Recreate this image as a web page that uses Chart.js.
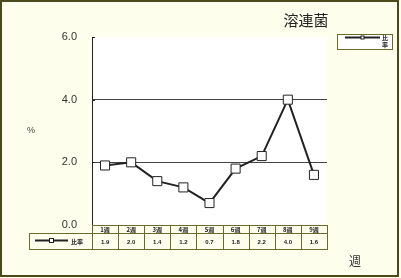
<!DOCTYPE html>
<html>
<head>
<meta charset="utf-8">
<script src="https://cdn.jsdelivr.net/npm/chart.js@4/dist/chart.umd.min.js"></script>
<style>
  html, body { margin: 0; padding: 0; background: #ffffff; }
  #c { display: block; }
</style>
</head>
<body>
<canvas id="c" width="401" height="278"></canvas>
<script>
// Weekly ratio of streptococcal cases (溶連菌)
const weekLabels = ['1週', '2週', '3週', '4週', '5週', '6週', '7週', '8週', '9週'];
const ratioValues = [1.9, 2.0, 1.4, 1.2, 0.7, 1.8, 2.2, 4.0, 1.6];
const yTicks = [0, 2, 4, 6];
const seriesName = '比率';
const chartTitle = '溶連菌';
const yUnit = '%';
const xUnit = '週';

const BG = '#fefeec';
const FRAME = '#4a4a1c';
const TABLE_LINE = '#6a6a2a';
const INK = '#222222';
const CJK = '"Noto Sans CJK JP", "Noto Sans", sans-serif';

function drawMarker(ctx, x, y, s) {
  ctx.fillStyle = '#ffffff';
  ctx.strokeStyle = INK;
  ctx.lineWidth = 1;
  ctx.fillRect(x - s / 2, y - s / 2, s, s);
  ctx.strokeRect(x - s / 2, y - s / 2, s, s);
}

const decor = {
  id: 'decor',
  beforeDraw(chart) {
    const { ctx, chartArea: a } = chart;
    ctx.save();
    ctx.fillStyle = BG;
    ctx.fillRect(0, 0, chart.width, chart.height);
    ctx.fillStyle = '#ffffff';
    ctx.fillRect(a.left, a.top, a.right - a.left, a.bottom - a.top);
    ctx.restore();
  },
  afterDraw(chart) {
    const { ctx, chartArea: a } = chart;
    const xs = chart.scales.x;
    const ys = chart.scales.y;
    ctx.save();

    // inner tick marks on the value axis
    ctx.strokeStyle = INK;
    ctx.lineWidth = 1;
    yTicks.forEach(v => {
      const y = Math.round(ys.getPixelForValue(v)) + 0.5;
      ctx.beginPath();
      ctx.moveTo(a.left, y);
      ctx.lineTo(a.left + 3, y);
      ctx.stroke();
    });

    // data table under the plot
    const half = (xs.getPixelForValue(1) - xs.getPixelForValue(0)) / 2;
    const tLeft = xs.getPixelForValue(0) - half;
    const tRight = xs.getPixelForValue(weekLabels.length - 1) + half;
    const r0 = 225, r1 = 233, r2 = 249, keyLeft = 29;
    ctx.strokeStyle = TABLE_LINE;
    ctx.lineWidth = 1;
    const hl = (x1, x2, y) => { ctx.beginPath(); ctx.moveTo(x1, y + 0.5); ctx.lineTo(x2, y + 0.5); ctx.stroke(); };
    const vl = (x, y1, y2) => { ctx.beginPath(); ctx.moveTo(Math.round(x) + 0.5, y1); ctx.lineTo(Math.round(x) + 0.5, y2); ctx.stroke(); };
    hl(tLeft, tRight + 1, r0);
    hl(keyLeft, tRight + 1, r1);
    hl(keyLeft, tRight + 1, r2);
    vl(keyLeft, r1, r2 + 1);
    for (let i = 0; i <= weekLabels.length; i++) {
      vl(tLeft + i * half * 2, r0, r2 + 1);
    }
    ctx.fillStyle = INK;
    ctx.textAlign = 'center';
    ctx.textBaseline = 'middle';
    weekLabels.forEach((lab, i) => {
      const cx = xs.getPixelForValue(i);
      ctx.font = 'bold 6px ' + CJK;
      ctx.fillText(lab, cx, (r0 + r1) / 2 + 1);
      ctx.font = 'bold 6px "Liberation Sans", sans-serif';
      ctx.fillText(ratioValues[i].toFixed(1), cx, (r1 + r2) / 2 + 1);
    });
    // series key inside the table
    const ky = Math.round((r1 + r2) / 2) - 0.5;
    ctx.strokeStyle = INK;
    ctx.lineWidth = 2;
    ctx.beginPath(); ctx.moveTo(35, ky); ctx.lineTo(68, ky); ctx.stroke();
    drawMarker(ctx, 51.5, ky, 4);
    ctx.fillStyle = INK;
    ctx.font = 'bold 6px ' + CJK;
    ctx.textAlign = 'left';
    ctx.fillText(seriesName, 71, ky + 1);

    // legend box
    ctx.fillStyle = '#ffffff';
    ctx.fillRect(337, 34, 55, 15);
    ctx.strokeStyle = TABLE_LINE;
    ctx.lineWidth = 1;
    ctx.strokeRect(337.5, 34.5, 55, 15);
    ctx.strokeStyle = INK;
    ctx.lineWidth = 2;
    ctx.beginPath(); ctx.moveTo(345, 37.5); ctx.lineTo(380, 37.5); ctx.stroke();
    drawMarker(ctx, 362.5, 37.5, 3);
    ctx.fillStyle = INK;
    ctx.font = 'bold 6px ' + CJK;
    ctx.textAlign = 'center';
    ctx.fillText(seriesName[0], 385, 38);
    ctx.fillText(seriesName[1], 385, 45);

    // title and axis units
    ctx.fillStyle = INK;
    ctx.font = '15px ' + CJK;
    ctx.textAlign = 'center';
    ctx.fillText(chartTitle, 306, 20);
    ctx.font = '9px "Liberation Sans", sans-serif';
    ctx.fillStyle = '#444';
    ctx.fillText(yUnit, 31, 131);
    ctx.font = '12px ' + CJK;
    ctx.fillStyle = '#333';
    ctx.fillText(xUnit, 355, 261);

    // outer frame
    ctx.strokeStyle = FRAME;
    ctx.lineWidth = 2;
    ctx.strokeRect(1, 1, 397, 275);
    ctx.restore();
  }
};

new Chart(document.getElementById('c'), {
  type: 'line',
  data: {
    labels: weekLabels,
    datasets: [{
      label: seriesName,
      data: ratioValues,
      borderColor: INK,
      borderWidth: 2,
      tension: 0,
      pointStyle: 'rect',
      pointRadius: 6.4,
      pointBorderWidth: 1,
      pointBorderColor: INK,
      pointBackgroundColor: '#ffffff'
    }]
  },
  options: {
    responsive: false,
    devicePixelRatio: 1,
    animation: false,
    layout: { padding: { left: 0, top: 37, right: 74, bottom: 53 } },
    plugins: { legend: { display: false }, title: { display: false }, tooltip: { enabled: false } },
    scales: {
      x: { display: false, offset: true },
      y: {
        min: 0,
        max: 6,
        afterFit: s => { s.width = 92; },
        afterBuildTicks: s => { s.ticks = yTicks.map(v => ({ value: v })); },
        ticks: {
          padding: 15,
          color: '#333',
          font: { family: '"Liberation Sans", Arial, sans-serif', size: 11 },
          callback: v => Number(v).toFixed(1)
        },
        grid: {
          drawTicks: false,
          color: c => (c.tick && (c.tick.value === 2 || c.tick.value === 4)) ? '#444' : 'rgba(0,0,0,0)'
        },
        border: { display: true, color: INK, width: 1 }
      }
    }
  },
  plugins: [decor]
});
</script>
</body>
</html>
